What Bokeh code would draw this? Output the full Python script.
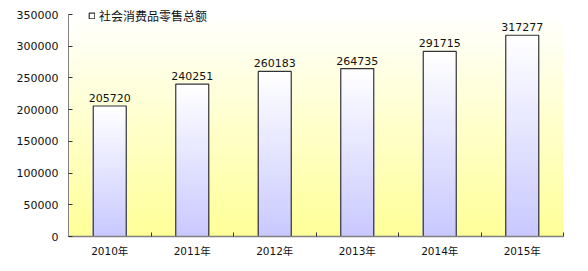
import numpy as np
from bokeh.plotting import figure
from bokeh.models import Range1d, FixedTicker, Legend, LegendItem, ColumnDataSource
from bokeh.core.properties import value
from bokeh.embed import file_html
from bokeh.resources import INLINE

years = ["2010年", "2011年", "2012年", "2013年", "2014年", "2015年"]
values = [205720, 240251, 260183, 264735, 291715, 317277]
series_name = "社会消费品零售总额"
y_max = 350000
y_step = 50000

n = len(years)
centers = [i + 0.5 for i in range(n)]
bounds = list(range(n + 1))

W, H = 588, 271
top_border, bottom_border = 4, 35
frame_h = H - top_border - bottom_border
y_end = y_max * frame_h / (frame_h - 10)  # leave room above the axis for the legend

p = figure(width=W, height=H, output_backend="svg", toolbar_location=None,
           x_range=Range1d(0, n), y_range=Range1d(0, y_end),
           min_border_left=68, min_border_right=25, min_border_top=top_border,
           min_border_bottom=bottom_border)
p.outline_line_color = None
p.grid.visible = False
p.background_fill_color = "white"
p.border_fill_color = "white"

# background gradient (white top -> yellow bottom)
rows = 200
top = np.array([255, 255, 255], float)
bot = np.array([255, 255, 153], float)
t = np.linspace(0, 1, rows)[:, None]  # row 0 = bottom
cols = bot * (1 - t) + top * t
img = np.zeros((rows, 1), dtype=np.uint32)
view = img.view(dtype=np.uint8).reshape((rows, 1, 4))
view[:, 0, 0] = cols[:, 0]
view[:, 0, 1] = cols[:, 1]
view[:, 0, 2] = cols[:, 2]
view[:, 0, 3] = 255
p.image_rgba(image=[img], x=0, y=0, dw=n, dh=y_max)

# bars with vertical gradient (white top -> lavender bottom)
K = 60
btop = np.array([255, 255, 255], float)
bbot = np.array([200, 200, 255], float)
xs, b0, b1, colors = [], [], [], []
for c, v in zip(centers, values):
    edges = np.linspace(0, v, K + 1)
    for k in range(K):
        f = (k + 0.5) / K
        col = bbot * (1 - f) + btop * f
        xs.append(c)
        b0.append(edges[k])
        b1.append(edges[k + 1])
        colors.append("#%02x%02x%02x" % tuple(int(round(x)) for x in col))
p.vbar(x=xs, bottom=b0, top=b1, width=0.4, fill_color=colors, line_color=colors,
       line_width=1.5)

src = ColumnDataSource(dict(x=centers, top=values, label=[str(v) for v in values]))
outline = p.vbar(x="x", top="top", width=0.4, source=src, fill_alpha=0,
                 line_color="#333333", line_width=1.2)

p.text(x="x", y="top", text="label", source=src, text_align="center",
       text_baseline="bottom", y_offset=-4, text_font_size="11px",
       text_font=value("DejaVu Sans"), text_color="#111111")

# axes
ya = p.yaxis[0]
ya.ticker = FixedTicker(ticks=list(range(0, y_max + 1, y_step)))
ya.bounds = (0, y_max)
ya.major_tick_in = 4
ya.major_tick_out = 0
ya.minor_tick_line_color = None
ya.axis_line_color = "#808080"
ya.major_tick_line_color = "#333333"
ya.major_label_standoff = 10
ya.major_label_text_font = "DejaVu Sans"
ya.major_label_text_font_size = "11px"
ya.major_label_text_color = "#111111"
ya.formatter.use_scientific = False

xa = p.xaxis[0]
xa.ticker = FixedTicker(ticks=centers, minor_ticks=bounds)
xa.major_label_overrides = {c: y for c, y in zip(centers, years)}
xa.major_tick_in = 0
xa.major_tick_out = 0
xa.minor_tick_in = 4
xa.minor_tick_out = 0
xa.minor_tick_line_color = "#333333"
xa.axis_line_color = "#808080"
xa.axis_line_width = 1.5
xa.major_label_standoff = 8
xa.major_label_text_font = "DejaVu Sans, Noto Sans CJK SC"
xa.major_label_text_font_size = "10.5px"
xa.major_label_text_color = "#111111"

legend = Legend(items=[LegendItem(label=series_name, renderers=[outline])],
                location=(20, frame_h - 20), padding=0, margin=0, spacing=0,
                glyph_width=7, glyph_height=7, label_standoff=4,
                label_text_font="Noto Sans CJK SC", label_text_font_size="12px",
                label_text_color="#111111", label_height=16,
                border_line_color=None, background_fill_alpha=0)
p.add_layout(legend)

open("out.html", "w").write(file_html(p, INLINE))
